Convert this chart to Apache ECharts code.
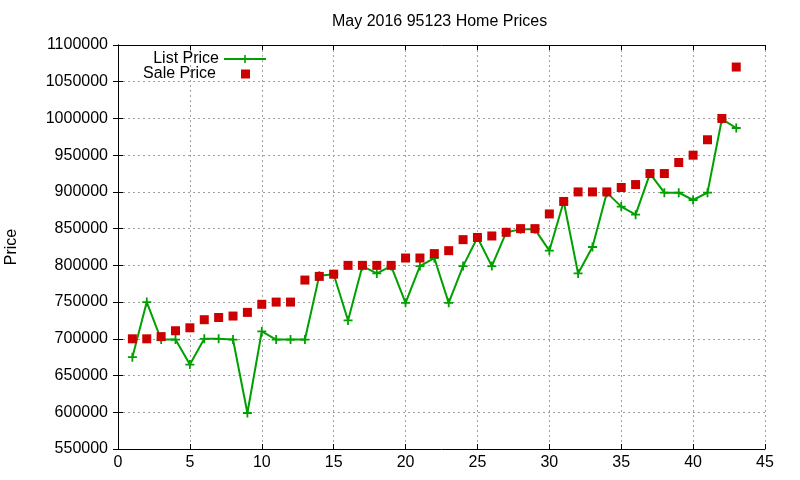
<!DOCTYPE html>
<html>
<head>
<meta charset="utf-8">
<script src="https://cdn.jsdelivr.net/npm/echarts@6/dist/echarts.min.js"></script>
<style>
  html, body { margin: 0; padding: 0; background: #fff; }
  #chart { width: 800px; height: 480px; }
</style>
</head>
<body>
<div id="chart"></div>
<script>
const houseIndex = [1, 2, 3, 4, 5, 6, 7, 8, 9, 10, 11, 12, 13, 14, 15, 16, 17, 18, 19, 20, 21, 22,
  23, 24, 25, 26, 27, 28, 29, 30, 31, 32, 33, 34, 35, 36, 37, 38, 39, 40, 41, 42, 43]

const listPrice = [675000, 750000, 699000, 699000, 665000, 700000, 700000, 699000, 599000, 710000,
  699000, 699000, 699000, 786000, 788000, 725000, 799000, 789000, 799000, 749000, 799000, 810000,
  749000, 799000, 838000, 799000, 845000, 849000, 849000, 820000, 887000, 789000, 825000, 899000,
  880000, 869000, 925000, 899000, 899000, 889000, 899000, 999000, 987000]

const salePrice = [700000, 700000, 703000, 711000, 715000, 726000, 729000, 731000, 736000, 747000,
  750000, 750000, 780000, 785000, 788000, 800000, 800000, 800000, 800000, 810000, 810000, 816000,
  820000, 835000, 838000, 840000, 845000, 850000, 850000, 870000, 887000, 900000, 900000, 900000,
  906000, 910000, 925000, 925000, 940000, 950000, 971000, 1000000, 1070000]

// gnuplot style "+" and filled square point types
const plusSymbol = 'path://M4,0H6V4H10V6H6V10H4V6H0V4H4Z'
const squareSymbol = 'path://M0,0H10V10H0Z'
const fontFamily = '"Liberation Sans", Arial, sans-serif'

const chart = echarts.init(document.getElementById('chart'))

const gridStyle = { type: [2, 3], color: '#a0a0a0', width: 1 }
const frameLine = { show: true, lineStyle: { color: '#000', width: 1 } }
const innerTick = { show: true, inside: true, length: 5, lineStyle: { color: '#000' } }
const legendText = { fontSize: 16, color: '#000', fontFamily: fontFamily }

const option = {
  animation: false,
  textStyle: { fontFamily: fontFamily, color: '#000' },
  title: {
    text: 'May 2016 95123 Home Prices',
    left: 327,
    top: 9,
    textStyle: { fontSize: 16, fontWeight: 'normal', color: '#000', fontFamily: fontFamily }
  },
  legend: [
    {
      data: ['List Price'],
      right: 528,
      top: 46,
      align: 'right',
      itemWidth: 42,
      itemHeight: 10,
      textStyle: legendText
    },
    {
      // square key sits under the middle of the line key, text ends where the line text ends
      data: ['Sale Price'],
      right: 545,
      top: 61,
      align: 'right',
      itemWidth: 9,
      itemHeight: 9,
      textStyle: Object.assign({}, legendText, { padding: [0, 20, 0, 0] })
    }
  ],
  grid: { left: 118, right: 35, top: 45, bottom: 31, outerBoundsMode: 'none', containLabel: false },
  xAxis: [
    {
      type: 'value',
      min: 0,
      max: 45,
      interval: 5,
      axisLine: frameLine,
      axisTick: innerTick,
      axisLabel: { fontSize: 16, color: '#000', margin: 6 },
      splitLine: { show: true, lineStyle: gridStyle }
    },
    {
      type: 'value',
      position: 'top',
      min: 0,
      max: 45,
      interval: 5,
      axisLine: frameLine,
      axisTick: innerTick,
      axisLabel: { show: false },
      splitLine: { show: false }
    }
  ],
  yAxis: [
    {
      type: 'value',
      min: 550000,
      max: 1100000,
      interval: 50000,
      name: 'Price',
      nameLocation: 'middle',
      nameGap: 98,
      nameTextStyle: { fontSize: 16, color: '#000' },
      axisLine: frameLine,
      axisTick: innerTick,
      axisLabel: { fontSize: 16, color: '#000', margin: 10, formatter: (v) => String(v) },
      splitLine: { show: true, lineStyle: gridStyle }
    },
    {
      type: 'value',
      position: 'right',
      min: 550000,
      max: 1100000,
      interval: 50000,
      axisLine: frameLine,
      axisTick: innerTick,
      axisLabel: { show: false },
      splitLine: { show: false }
    }
  ],
  series: [
    {
      name: 'List Price',
      type: 'line',
      data: houseIndex.map((x, i) => [x, listPrice[i]]),
      symbol: plusSymbol,
      symbolSize: 9,
      showAllSymbol: true,
      color: '#00a000',
      lineStyle: { width: 2, color: '#00a000' },
      itemStyle: { color: '#00a000' },
      z: 2
    },
    {
      name: 'Sale Price',
      type: 'scatter',
      data: houseIndex.map((x, i) => [x, salePrice[i]]),
      symbol: squareSymbol,
      symbolSize: 9,
      itemStyle: { color: '#cc0000', opacity: 1 },
      z: 3
    }
  ]
}

chart.setOption(option)
</script>
</body>
</html>
